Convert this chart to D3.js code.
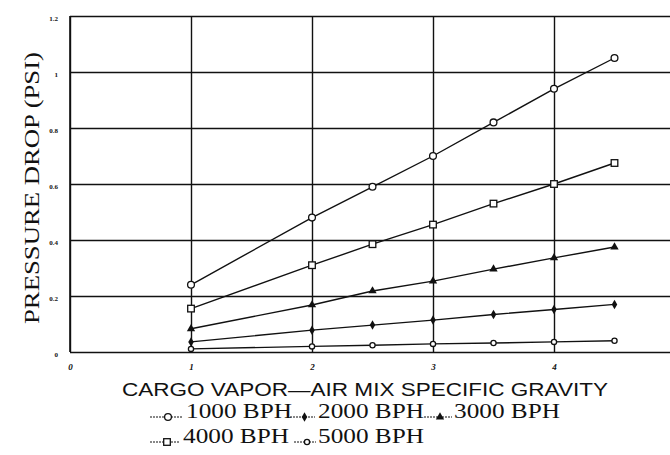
<!DOCTYPE html>
<html>
<head>
<meta charset="utf-8">
<script src="https://cdn.jsdelivr.net/npm/d3@7"></script>
<style>
  html, body { margin: 0; padding: 0; background: #fff; }
  svg { display: block; }
</style>
</head>
<body>
<svg id="chart" width="670" height="455"></svg>
<script>
// ---- data ----
const gravity = [1, 2, 2.5, 3, 3.5, 4, 4.5];
const bph1000 = [0.24, 0.48, 0.59, 0.70, 0.82, 0.94, 1.05];
const bph2000 = [0.036, 0.078, 0.096, 0.114, 0.134, 0.152, 0.17];
const bph3000 = [0.083, 0.168, 0.218, 0.253, 0.296, 0.336, 0.375];
const bph4000 = [0.155, 0.31, 0.385, 0.455, 0.53, 0.60, 0.675];
const bph5000 = [0.011, 0.02, 0.024, 0.029, 0.032, 0.036, 0.04];
const seriesNames = ["1000 BPH", "2000 BPH", "3000 BPH", "4000 BPH", "5000 BPH"];
const yTickValues = [0, 0.2, 0.4, 0.6, 0.8, 1.0, 1.2];
const yTickLabels = ["0", "0.2", "0.4", "0.6", "0.8", "1", "1.2"];
const xTickValues = [0, 1, 2, 3, 4];
const xTickLabels = ["0", "1", "2", "3", "4"];
const xTitle = "CARGO VAPOR\u2014AIR MIX SPECIFIC GRAVITY";
const yTitle = "PRESSURE DROP (PSI)";

// ---- setup ----
const svg = d3.select("#chart");
const ink = "#111";
const x = d3.scaleLinear().domain([0, 5]).range([70, 675]);
const y = d3.scaleLinear().domain([0, 1.2]).range([352, 16]);
const rightEdge = 670;

const series = [
  {name: seriesNames[0], values: bph1000, marker: "circle"},
  {name: seriesNames[1], values: bph2000, marker: "diamond"},
  {name: seriesNames[2], values: bph3000, marker: "triangle"},
  {name: seriesNames[3], values: bph4000, marker: "square"},
  {name: seriesNames[4], values: bph5000, marker: "smallcircle"}
];

// ---- grid via axes ----
const yAxis = d3.axisLeft(y)
  .tickValues(yTickValues)
  .tickFormat((d, i) => yTickLabels[i])
  .tickSize(-(rightEdge - x(0)))
  .tickPadding(12);
const gy = svg.append("g").attr("transform", `translate(${x(0)},0)`).call(yAxis);
gy.select(".domain").remove();
gy.selectAll(".tick line").attr("stroke", ink).attr("stroke-width", 1.4);
gy.selectAll(".tick text")
  .attr("fill", ink)
  .attr("font-family", "'Liberation Serif', serif")
  .attr("font-size", 7)
  .attr("font-weight", "bold")
  .attr("dy", "0.6em");

const xAxis = d3.axisBottom(x)
  .tickValues(xTickValues)
  .tickFormat((d, i) => xTickLabels[i])
  .tickSize(-(y(0) - y(1.2)))
  .tickPadding(12);
const gx = svg.append("g").attr("transform", `translate(0,${y(0)})`).call(xAxis);
gx.select(".domain").remove();
gx.selectAll(".tick line").attr("stroke", ink).attr("stroke-width", 1.4);
gx.selectAll(".tick text")
  .attr("fill", ink)
  .attr("font-family", "'Liberation Serif', serif")
  .attr("font-size", 9)
  .attr("font-weight", "bold")
  .attr("font-style", "italic");

// left axis line
svg.append("line")
  .attr("x1", x(0)).attr("x2", x(0))
  .attr("y1", y(1.2)).attr("y2", y(0))
  .attr("stroke", ink).attr("stroke-width", 1.6);

// ---- markers ----
function drawMarker(g, type, cx, cy) {
  if (type === "circle") {
    g.append("circle").attr("cx", cx).attr("cy", cy).attr("r", 3.4)
      .attr("fill", "#fff").attr("stroke", ink).attr("stroke-width", 1.3);
  } else if (type === "smallcircle") {
    g.append("circle").attr("cx", cx).attr("cy", cy).attr("r", 2.6)
      .attr("fill", "#fff").attr("stroke", ink).attr("stroke-width", 1.3);
  } else if (type === "square") {
    g.append("rect").attr("x", cx - 3.3).attr("y", cy - 3.3)
      .attr("width", 6.6).attr("height", 6.6)
      .attr("fill", "#fff").attr("stroke", ink).attr("stroke-width", 1.3);
  } else if (type === "triangle") {
    g.append("path").attr("d", d3.symbol(d3.symbolTriangle, 30)())
      .attr("transform", `translate(${cx},${cy})`).attr("fill", ink);
  } else if (type === "diamond") {
    g.append("path").attr("d", d3.symbol(d3.symbolDiamond, 26)())
      .attr("transform", `translate(${cx},${cy})`).attr("fill", ink);
  }
}

// ---- lines ----
const line = d3.line().x(d => x(d[0])).y(d => y(d[1]));
series.forEach(s => {
  const pts = gravity.map((g, i) => [g, s.values[i]]);
  svg.append("path").datum(pts).attr("d", line)
    .attr("fill", "none").attr("stroke", ink).attr("stroke-width", 1.4);
  const g = svg.append("g");
  pts.forEach(p => drawMarker(g, s.marker, x(p[0]), y(p[1])));
});

// ---- titles ----
svg.append("text")
  .attr("x", 365).attr("y", 396)
  .attr("text-anchor", "middle")
  .attr("font-family", "'Liberation Sans', Arial, sans-serif")
  .attr("font-size", 19)
  .attr("textLength", 486).attr("lengthAdjust", "spacingAndGlyphs")
  .attr("fill", ink)
  .text(xTitle);

svg.append("text")
  .attr("transform", "translate(39,188) rotate(-90)")
  .attr("text-anchor", "middle")
  .attr("font-family", "'Liberation Serif', serif")
  .attr("font-size", 22)
  .attr("textLength", 272).attr("lengthAdjust", "spacingAndGlyphs")
  .attr("fill", ink)
  .text(yTitle);

// ---- legend ----
const legendItems = [
  {s: series[0], mx1: 150, mx2: 182, tx: 186, row: 0},
  {s: series[1], mx1: 290, mx2: 315, tx: 318, row: 0},
  {s: series[2], mx1: 424, mx2: 452, tx: 454, row: 0},
  {s: series[3], mx1: 150, mx2: 180, tx: 183, row: 1},
  {s: series[4], mx1: 294, mx2: 316, tx: 318, row: 1}
];
const rowBase = [418, 443];
legendItems.forEach(it => {
  const by = rowBase[it.row];
  const ly = by - 1;
  const g = svg.append("g");
  g.append("line").attr("x1", it.mx1).attr("x2", it.mx2)
    .attr("y1", ly).attr("y2", ly)
    .attr("stroke", ink).attr("stroke-width", 1).attr("stroke-dasharray", "2,1");
  drawMarker(g, it.s.marker, (it.mx1 + it.mx2) / 2 + 2, ly);
  g.append("text")
    .attr("x", it.tx).attr("y", by)
    .attr("font-family", "'Liberation Serif', serif")
    .attr("font-size", 22)
    .attr("textLength", 106).attr("lengthAdjust", "spacingAndGlyphs")
    .attr("fill", ink)
    .text(it.s.name);
});
</script>
</body>
</html>
